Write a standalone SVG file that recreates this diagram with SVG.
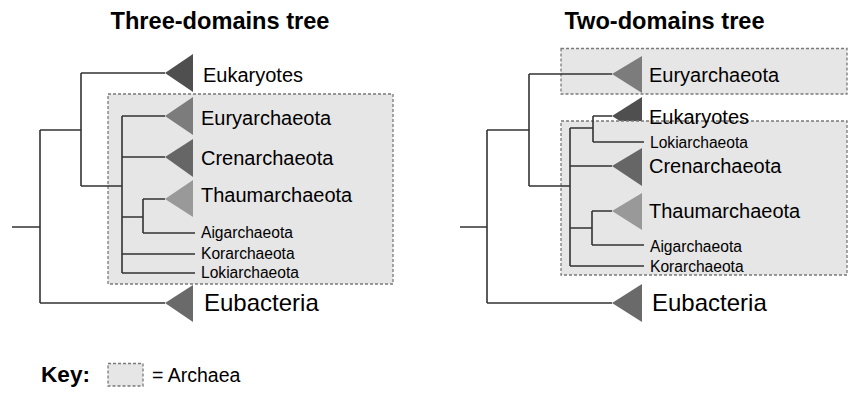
<svg xmlns="http://www.w3.org/2000/svg" width="854" height="400" viewBox="0 0 854 400">
<style>
text{font-family:"Liberation Sans",Arial,sans-serif;fill:#000}
.title{font-size:23.6px;font-weight:bold}
.lab{font-size:20px}
.sm{font-size:15.6px}
.big{font-size:24px}
.box{fill:#e6e6e6;stroke:#7a7a7a;stroke-width:1.3;stroke-dasharray:3,2}
.br{fill:none;stroke:#333;stroke-width:1.6}
.euk{fill:#4f4f4f}
.eury{fill:#7c7c7c}
.cren{fill:#666666}
.thau{fill:#999999}
.bact{fill:#6a6a6a}
</style>
<rect width="854" height="400" fill="#fff"/>
<text class="title" x="220" y="29" text-anchor="middle">Three-domains tree</text>
<text class="title" x="664.5" y="29" text-anchor="middle">Two-domains tree</text>

<!-- Left tree -->
<g id="left-archaea-box"><rect class="box" x="108" y="94" width="285" height="190"/></g>
<g id="left-connectors">
<path class="br" d="M12,227H40M40,130V303M40,130H81M81,73V186M81,73H165M40,303H165M81,186H122M122,116V273M122,116H165M122,157H165M122,217H143M143,199V233M143,199H165M143,233H195M122,254H195M122,273H195"/>
</g>
<g id="left-eukaryotes"><polygon class="euk" points="165,73 193,54 193,92"/><text class="lab" x="203" y="82">Eukaryotes</text></g>
<g id="left-euryarchaeota"><polygon class="eury" points="165,116 193,97 193,135"/><text class="lab" x="201" y="125">Euryarchaeota</text></g>
<g id="left-crenarchaeota"><polygon class="cren" points="165,157 193,139 193,177"/><text class="lab" x="201" y="164.5">Crenarchaeota</text></g>
<g id="left-thaumarchaeota"><polygon class="thau" points="165,199 193,180 193,217"/><text class="lab" x="201" y="202">Thaumarchaeota</text></g>
<g id="left-aigarchaeota"><text class="sm" x="201" y="237.5">Aigarchaeota</text></g>
<g id="left-korarchaeota"><text class="sm" x="201" y="259">Korarchaeota</text></g>
<g id="left-lokiarchaeota"><text class="sm" x="201" y="278">Lokiarchaeota</text></g>
<g id="left-eubacteria"><polygon class="bact" points="165,303 193,285 193,322"/><text class="big" x="204" y="311">Eubacteria</text></g>

<!-- Right tree -->
<g id="right-eukaryotes-tri"><polygon class="euk" points="612,116 642,97 642,135"/></g>
<g id="right-archaea-box-top"><rect class="box" x="561" y="48.5" width="286" height="45.5"/></g>
<g id="right-archaea-box-main"><rect class="box" x="561" y="121" width="286" height="154"/></g>
<g id="right-connectors">
<path class="br" d="M460,227H487M487,130V303M487,130H529M529,74V186M529,74H612M529,186H570M570,128V266M570,128H593M593,116V142M593,116H612M593,142H644M570,166H612M570,228H592M592,211V245M592,211H612M592,245H644M570,266H644M487,303H612"/>
</g>
<g id="right-euryarchaeota"><polygon class="eury" points="612,74 642,56 642,93"/><text class="lab" x="649" y="82">Euryarchaeota</text></g>
<g id="right-eukaryotes"><text class="lab" x="649" y="123.5">Eukaryotes</text></g>
<g id="right-lokiarchaeota"><text class="sm" x="650" y="147.5">Lokiarchaeota</text></g>
<g id="right-crenarchaeota"><polygon class="cren" points="612,166 642,148 642,186"/><text class="lab" x="649" y="173">Crenarchaeota</text></g>
<g id="right-thaumarchaeota"><polygon class="thau" points="612,211 642,193 642,230"/><text class="lab" x="649" y="217.5">Thaumarchaeota</text></g>
<g id="right-aigarchaeota"><text class="sm" x="650" y="252">Aigarchaeota</text></g>
<g id="right-korarchaeota"><text class="sm" x="650" y="272">Korarchaeota</text></g>
<g id="right-eubacteria"><polygon class="bact" points="612,303 642,284 642,322"/><text class="big" x="652" y="311">Eubacteria</text></g>

<!-- Key -->
<g id="key">
<text x="41" y="382" style="font-size:22.6px;font-weight:bold">Key:</text>
<rect class="box" x="108" y="363.5" width="35" height="22.5"/>
<text x="152" y="382" style="font-size:19.5px">= Archaea</text>
</g>
</svg>
